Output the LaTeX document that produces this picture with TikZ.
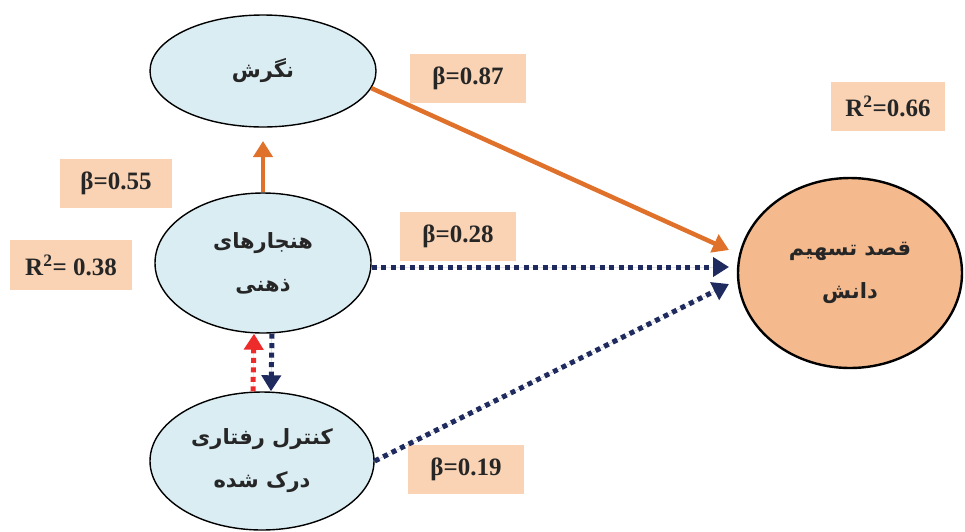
\documentclass[tikz,border=0pt]{standalone}
\usepackage{fontspec}
\setmainfont{Liberation Serif}
\newfontfamily\arabicfont[Script=Arabic]{DejaVu Sans}
\TeXXeTstate=1
\usetikzlibrary{arrows.meta,shapes.geometric}
\definecolor{boxfill}{HTML}{F9D3B4}
\definecolor{ellfill}{HTML}{DAEDF3}
\definecolor{tgtfill}{HTML}{F4BA8E}
\definecolor{orng}{HTML}{E0712B}
\definecolor{navy}{HTML}{1F2A5E}
\definecolor{redd}{HTML}{EE2B2B}
\begin{document}
\begin{tikzpicture}[x=1pt,y=-1pt,
  ell/.style={draw=black,line width=1.4pt,fill=ellfill,ellipse,inner sep=0pt,font=\arabicfont\bfseries\fontsize{21}{43}\selectfont,align=center,text=black!85},
  lbl/.style={fill=boxfill,minimum width=116pt,minimum height=49pt,inner sep=0pt,font=\bfseries\fontsize{25}{28}\selectfont,text=black!85},
  orarrow/.style={draw=orng,fill=orng,line width=4.5pt,-{Triangle[length=16pt,width=19pt]}},
  dotarrow/.style={line width=5pt,dash pattern=on 5pt off 4.5pt,-{Triangle[length=16pt,width=19pt]}}
]
\useasboundingbox (0,0) rectangle (965,531);
% ellipses
\node[ell,minimum width=226pt,minimum height=112pt] (att) at (263,71) {\beginR نگرش\endR};
\node[ell,minimum width=216pt,minimum height=140pt] (sn) at (263,263) {\beginR هنجارهای\endR\\\beginR ذهنی\endR};
\node[ell,minimum width=224pt,minimum height=138pt] (pbc) at (262,461) {\beginR کنترل رفتاری\endR\\\beginR درک شده\endR};
\node[ell,fill=tgtfill,line width=2.4pt,minimum width=224pt,minimum height=190pt] (int) at (850,273) {\beginR قصد تسهیم\endR\\\beginR دانش\endR};
% labels
\node[lbl] (b87) at (468,78) {β=0.87};
\node[lbl,minimum width=114pt] (r66) at (888,106) {R\textsuperscript{2}=0.66};
\node[lbl,minimum width=112pt] (b55) at (116,183) {β=0.55};
\node[lbl,minimum width=122pt,minimum height=50pt] (r38) at (71,265) {R\textsuperscript{2}= 0.38};
\node[lbl] (b28) at (458,236) {β=0.28};
\node[lbl] (b19) at (466,469) {β=0.19};
% end points
\coordinate (e1) at (729,250);
\coordinate (e2) at (729,267);
\coordinate (e3) at (729,284);
\coordinate (e4) at (263,141);
% connectors
\draw[orarrow] (att.-9) -- (e1);
\draw[orarrow] (sn.north) -- (e4);
\draw[dotarrow,draw=navy,fill=navy] ([yshift=-4pt]sn.east) -- (e2);
\draw[dotarrow,draw=navy,fill=navy] (pbc.east) -- (e3);
\draw[dotarrow,draw=redd,fill=redd] ([xshift=-9pt]pbc.north) -- ([xshift=-9pt]sn.south);
\draw[dotarrow,draw=navy,fill=navy] ([xshift=9pt]sn.south) -- ([xshift=9pt]pbc.north);
\end{tikzpicture}
\end{document}
